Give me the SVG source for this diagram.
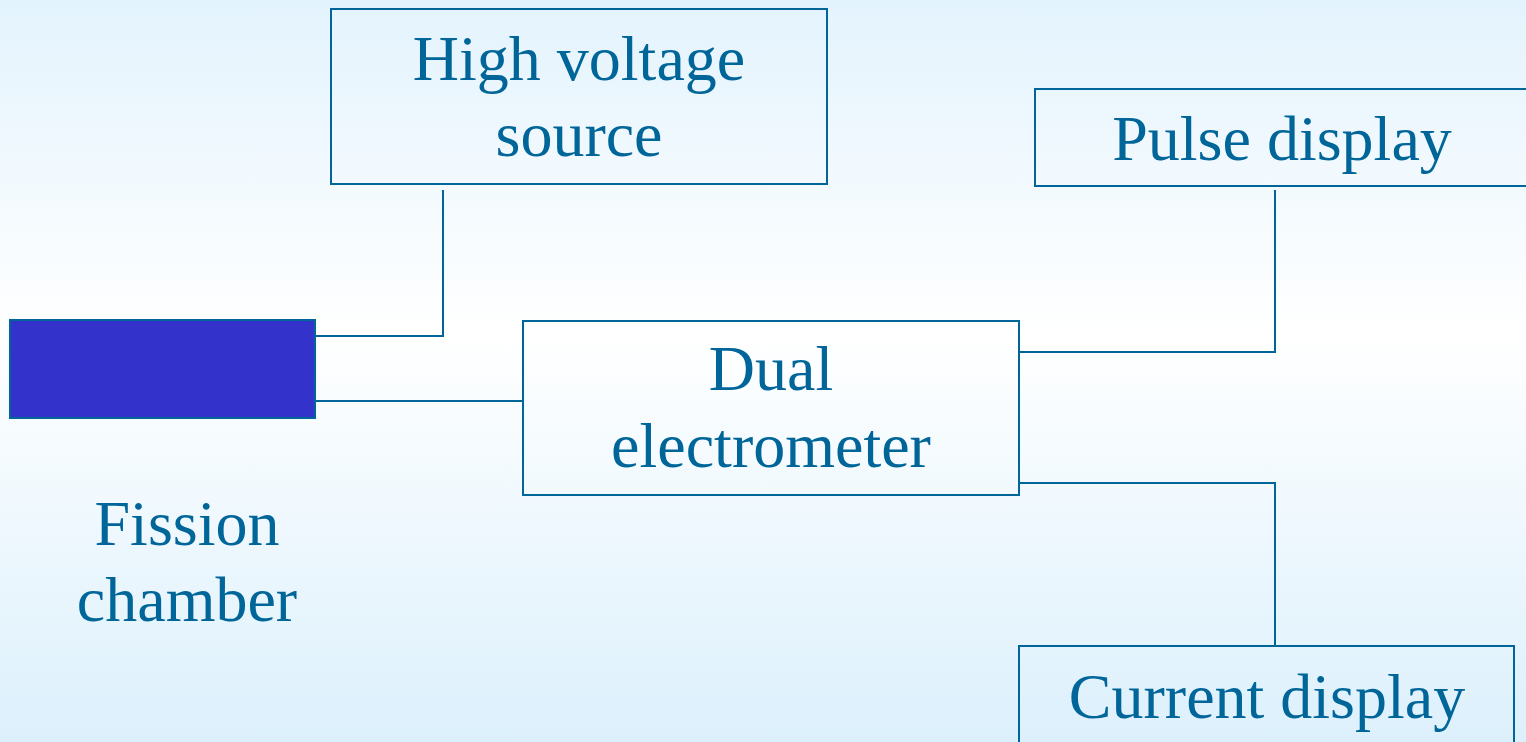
<svg xmlns="http://www.w3.org/2000/svg" width="1526" height="742" viewBox="0 0 1526 742">
<defs>
<linearGradient id="bg" x1="0" y1="0" x2="0" y2="1">
<stop offset="0" stop-color="#e3f3fd"/>
<stop offset="0.45" stop-color="#ffffff"/>
<stop offset="1" stop-color="#dcf0fc"/>
</linearGradient>
<style>
.box{fill:none;stroke:#006699;stroke-width:2}
.wire{fill:none;stroke:#006699;stroke-width:2}
.t{font-family:"Liberation Serif","Times New Roman",serif;font-size:64px;fill:#006699;text-anchor:middle}
</style>
</defs>
<rect x="0" y="0" width="1526" height="742" fill="url(#bg)"/>
<g id="connectors">
<polyline class="wire" points="443,190 443,336 315,336"/>
<line class="wire" x1="315" y1="401" x2="523" y2="401"/>
<polyline class="wire" points="1019,352 1275,352 1275,190"/>
<polyline class="wire" points="1019,483 1275,483 1275,646"/>
</g>
<g id="high-voltage">
<rect class="box" x="331" y="9" width="496" height="175"/>
<text class="t" x="579" y="80">High voltage</text>
<text class="t" x="579" y="156">source</text>
</g>
<g id="fission-chamber">
<rect x="10" y="320" width="305" height="98" fill="#3333cc" stroke="#006699" stroke-width="2"/>
<text class="t" x="187" y="545">Fission</text>
<text class="t" x="187" y="621">chamber</text>
</g>
<g id="dual-electrometer">
<rect class="box" x="523" y="321" width="496" height="174"/>
<text class="t" x="771" y="390">Dual</text>
<text class="t" x="771" y="467">electrometer</text>
</g>
<g id="pulse-display">
<rect class="box" x="1035" y="89" width="494" height="97"/>
<text class="t" x="1282" y="160">Pulse display</text>
</g>
<g id="current-display">
<rect class="box" x="1019" y="646" width="495" height="100"/>
<text class="t" x="1267" y="718">Current display</text>
</g>
</svg>
